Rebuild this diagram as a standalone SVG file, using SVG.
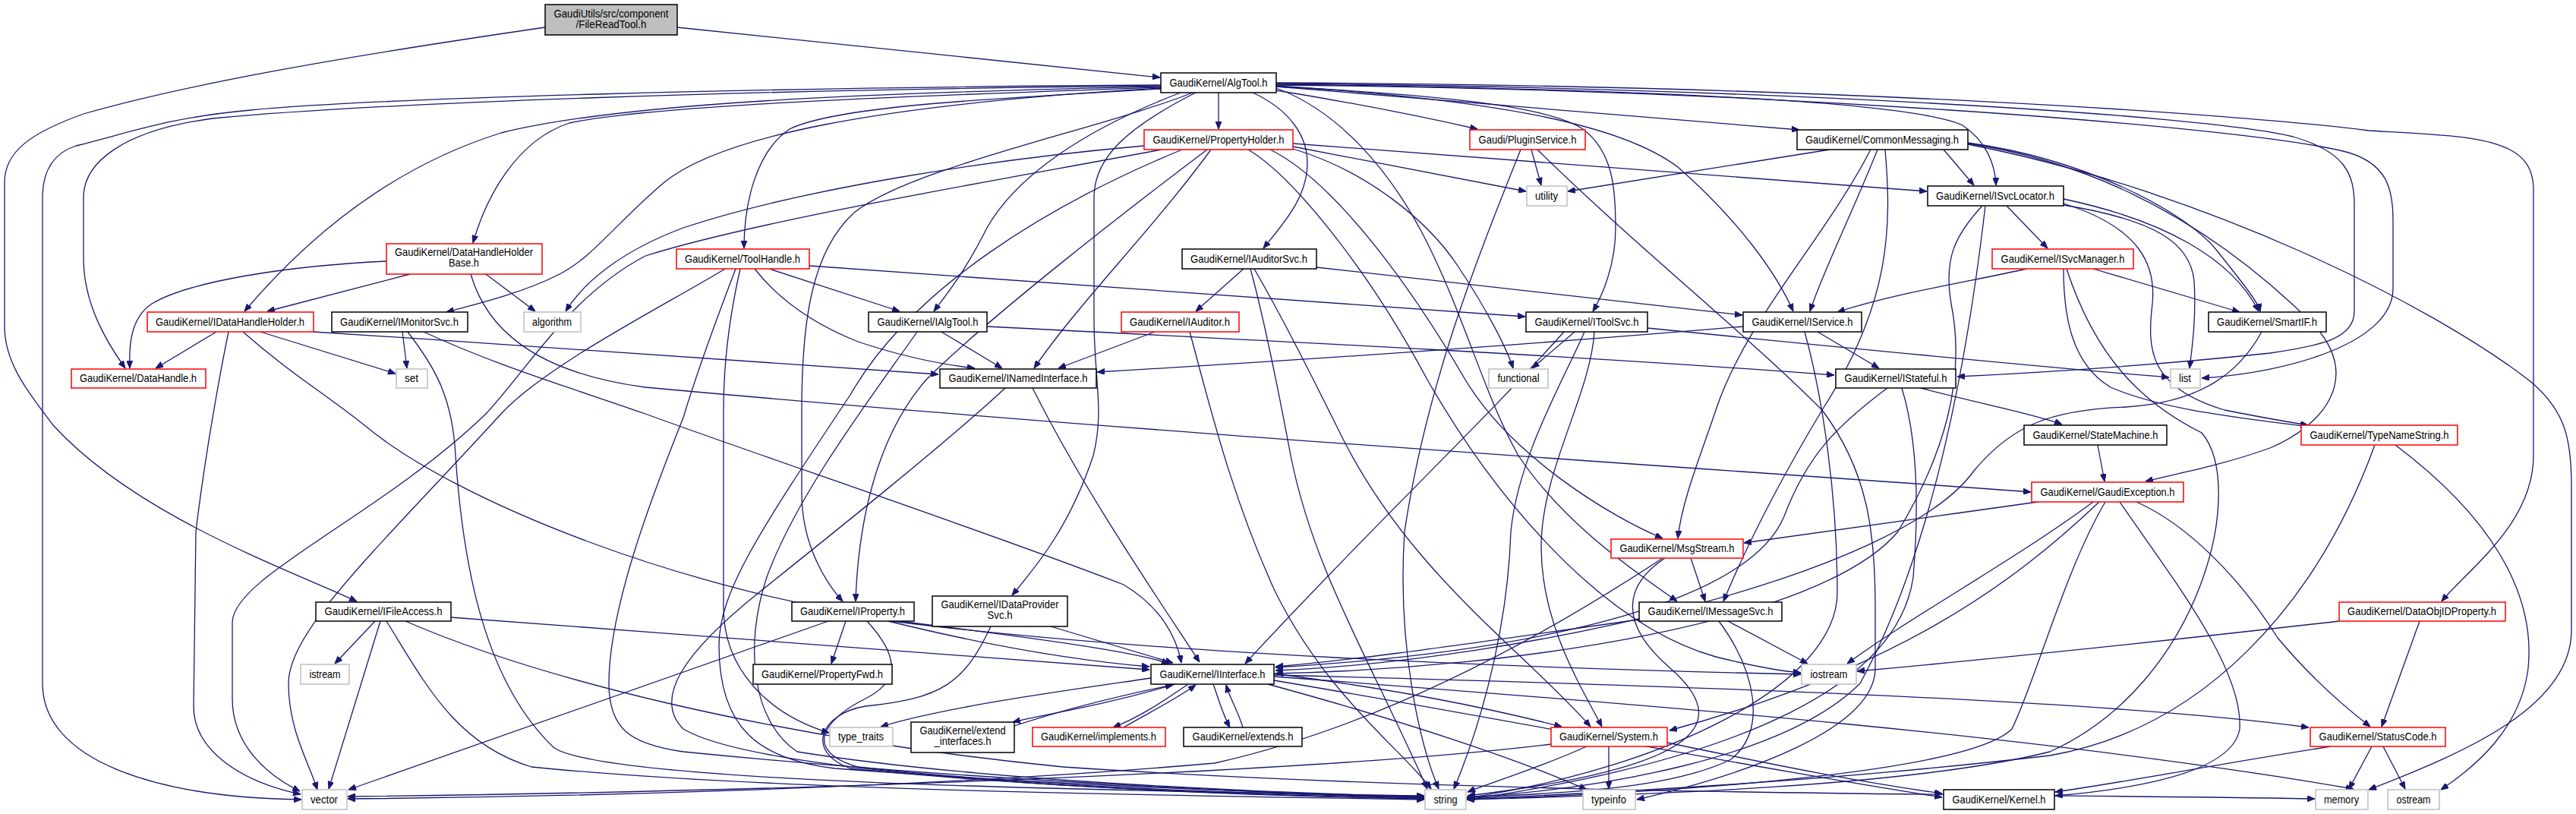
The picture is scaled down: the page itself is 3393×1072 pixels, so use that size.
<svg xmlns="http://www.w3.org/2000/svg" width="3393" height="1072" viewBox="0 0 3393 1072">
<style>
.e{fill:none;stroke:#191970;stroke-width:1.3;marker-end:url(#ah)}
rect{fill:#ffffff;stroke:#000000;stroke-width:1.5}
.r rect{stroke:#ff0000}
.g rect{stroke:#bfbfbf}
.root rect{fill:#bfbfbf}
text{font-family:"Liberation Sans",Arial,Helvetica,sans-serif;font-size:15px;fill:#000000;text-anchor:middle}
</style>
<defs>
<marker id="ah" viewBox="0 0 10 8" refX="10" refY="4" markerWidth="10" markerHeight="8" markerUnits="userSpaceOnUse" orient="auto"><path d="M0,0L10,4L0,8z" fill="#191970" stroke="#191970" stroke-width="1"/></marker>
</defs>
<rect x="0" y="0" width="3393" height="1072" style="fill:#ffffff;stroke:none"/>
<g id="edges">
<path class="e" d="M892,36 L1528,102"/>
<path class="e" d="M718,36 C450,75 250,110 110,150 C40,175 6,200 6,240 L6,430 C6,480 40,520 70,560 C180,680 380,750 470,792"/>
<path class="e" d="M1605,122 L1605,170"/>
<path class="e" d="M1681,119 C1780,135 1880,155 1946,170"/>
<path class="e" d="M1681,114 L2370,171"/>
<path class="e" d="M1681,111 C2200,118 2520,135 2585,165 C2615,185 2628,215 2629,244"/>
<path class="e" d="M1681,113 C1950,130 2130,160 2210,220 C2290,290 2340,360 2362,410"/>
<path class="e" d="M1681,110 C2300,115 2900,150 3020,180 C3090,200 3101,230 3101,270 L3101,410 C3101,445 3060,455 2990,465 C2850,480 2700,490 2578,496"/>
<path class="e" d="M1681,112 C2300,117 2950,165 3090,200 C3145,215 3152,250 3152,290 L3152,380 C3152,450 3020,490 2900,498"/>
<path class="e" d="M1681,109 C2400,112 2950,150 3120,172 C3260,180 3337,180 3337,250 L3337,600 C3337,690 3250,750 3216,792"/>
<path class="e" d="M1555,122 C1430,170 1340,230 1300,300 C1270,360 1245,390 1230,410"/>
<path class="e" d="M1529,117 C1300,130 1100,140 1040,170 C995,200 980,270 980,327"/>
<path class="e" d="M1529,115 C1150,128 850,140 750,162 C680,185 640,260 623,320"/>
<path class="e" d="M1529,114 C1150,122 820,135 660,175 C500,225 390,330 322,410"/>
<path class="e" d="M1529,113 C1000,118 500,135 280,156 C160,172 110,215 110,260 L110,340 C110,400 140,450 165,485"/>
<path class="e" d="M1529,112 C1000,115 480,130 330,145 C220,155 170,175 100,192 C70,202 56,225 56,260 L56,900 C56,1000 200,1050 397,1053"/>
<path class="e" d="M1529,116 C1150,138 950,180 875,240 C810,295 780,340 735,362 C690,385 630,400 588,411"/>
<path class="e" d="M1650,122 C1700,145 1722,180 1722,215 C1722,260 1690,295 1664,327"/>
<path class="e" d="M1681,114 C1900,125 2040,140 2085,170 C2125,200 2128,250 2128,300 C2128,350 2110,390 2098,410"/>
<path class="e" d="M1571,122 C1450,170 1200,220 1125,280 C1070,330 1056,420 1056,540 L1056,650 C1056,720 1090,770 1110,792"/>
<path class="e" d="M1575,122 C1480,170 1441,210 1441,260 L1441,420 C1441,500 1455,540 1440,600 C1410,690 1370,740 1333,784"/>
<path class="e" d="M1681,116 C1760,145 1830,220 1880,320 C1930,420 1955,520 2000,600 C2060,690 2150,750 2209,792"/>
<path class="e" d="M1507,192 C1300,210 1050,250 900,300 C820,330 770,370 745,410"/>
<path class="e" d="M1530,197 C1300,240 1000,290 850,337 C750,390 700,480 640,545 C500,680 306,760 306,820 L306,920 C306,980 350,1020 395,1042"/>
<path class="e" d="M1557,197 C1380,270 1200,380 1120,520 C1000,700 947,780 947,850 C947,960 1000,1000 1100,1012 C1400,1035 1700,1045 1876,1050"/>
<path class="e" d="M1590,197 C1480,280 1300,420 1220,500 C1150,580 1130,700 1127,792"/>
<path class="e" d="M1595,197 C1520,300 1420,400 1362,485"/>
<path class="e" d="M1644,197 C1700,230 1800,350 1880,500 C1960,640 2100,820 2260,865 C2320,880 2350,884 2372,886"/>
<path class="e" d="M1673,197 C1760,240 1860,380 1930,500 C1990,600 2120,680 2190,709"/>
<path class="e" d="M1703,193 L2010,252"/>
<path class="e" d="M1703,189 L2538,252"/>
<path class="e" d="M1703,196 C1800,225 1880,290 1920,350 C1960,410 1985,460 1993,485"/>
<path class="e" d="M2017,197 L2030,244"/>
<path class="e" d="M2003,197 C1950,330 1880,500 1850,700 C1840,850 1870,980 1895,1039"/>
<path class="e" d="M2025,197 C2150,320 2300,440 2400,540 C2460,620 2470,700 2470,800 L2470,880 C2470,960 2300,1020 2156,1053"/>
<path class="e" d="M2410,197 L2065,252"/>
<path class="e" d="M2560,197 L2600,244"/>
<path class="e" d="M2473,197 C2440,280 2400,360 2384,410"/>
<path class="e" d="M2464,197 C2400,320 2300,420 2260,540 C2240,600 2215,660 2210,709"/>
<path class="e" d="M2483,197 C2492,300 2490,400 2400,540 C2340,640 2300,720 2270,792"/>
<path class="e" d="M2592,188 C2750,210 2880,280 2920,330 C2960,380 2975,400 2977,410"/>
<path class="e" d="M2592,189 C2800,220 2950,330 3050,430 C3110,500 3060,560 2990,590 C2920,615 2860,625 2826,634"/>
<path class="e" d="M2592,190 C2900,250 3200,400 3330,500 C3380,540 3387,580 3387,640 L3387,830 C3387,930 3250,990 3120,1040"/>
<path class="e" d="M2643,271 L2697,327"/>
<path class="e" d="M2718,262 C2850,290 2940,340 2975,410"/>
<path class="e" d="M2718,270 C2840,290 2885,320 2890,370 C2893,420 2887,460 2884,485"/>
<path class="e" d="M2718,268 C2820,300 2840,350 2835,400 C2828,460 2830,510 2930,540 C2980,550 3010,555 3040,560"/>
<path class="e" d="M2615,271 C2600,400 2560,700 2450,900 C2350,1000 2100,1040 1932,1050"/>
<path class="e" d="M2611,271 C2575,310 2560,340 2570,400 C2590,500 2560,600 2500,700 C2400,820 2000,880 1680,887"/>
<path class="e" d="M509,344 C380,350 250,370 200,400 C170,420 170,460 171,485"/>
<path class="e" d="M540,361 L352,410"/>
<path class="e" d="M640,361 L705,410"/>
<path class="e" d="M620,361 C640,430 700,490 850,510 C1500,570 2300,620 2675,648"/>
<path class="e" d="M1066,350 L2009,417"/>
<path class="e" d="M1013,354 L1185,410"/>
<path class="e" d="M994,354 C1030,400 1080,430 1130,450 C1190,470 1240,480 1284,485"/>
<path class="e" d="M975,354 C960,420 953,480 953,540 L953,800 C953,880 1010,940 1092,965"/>
<path class="e" d="M969,354 C940,430 915,500 900,550 C860,650 802,800 802,900 C802,960 830,980 900,990 C1300,1030 1700,1045 1876,1051"/>
<path class="e" d="M955,354 C880,400 720,480 660,545 C500,720 380,830 380,900 C380,960 405,1000 418,1040"/>
<path class="e" d="M1638,354 L1575,410"/>
<path class="e" d="M1647,354 C1665,420 1685,520 1700,600 C1730,750 1800,860 1880,1039"/>
<path class="e" d="M1652,354 C1690,420 1720,480 1760,560 C1850,750 2000,850 2095,957"/>
<path class="e" d="M1734,352 L2295,415"/>
<path class="e" d="M2669,354 C2600,370 2500,385 2420,411"/>
<path class="e" d="M2757,354 L2950,411"/>
<path class="e" d="M2718,354 C2718,420 2730,480 2780,510 C2850,540 2950,550 3040,562"/>
<path class="e" d="M2722,354 C2760,470 2820,530 2900,570 C2960,640 2900,900 2700,990 C2500,1040 2100,1048 1932,1053"/>
<path class="e" d="M285,437 L205,485"/>
<path class="e" d="M343,437 L521,492"/>
<path class="e" d="M301,437 C290,490 270,600 258,700 L255,930 C255,990 320,1030 396,1046"/>
<path class="e" d="M320,437 C380,490 430,520 480,560 C600,660 900,780 1200,820 C1400,845 1500,860 1540,874"/>
<path class="e" d="M413,437 C700,455 1000,478 1236,493"/>
<path class="e" d="M530,437 L536,485"/>
<path class="e" d="M537,437 C570,480 596,520 600,600 C610,750 640,900 730,985 C800,1030 1400,1040 1876,1048"/>
<path class="e" d="M558,437 C650,480 750,510 850,545 C1000,600 1300,700 1480,770 C1530,800 1550,840 1556,873"/>
<path class="e" d="M1240,437 L1320,485"/>
<path class="e" d="M1208,437 C1150,520 1050,650 1010,760 C980,850 990,950 1050,990 C1300,1030 1700,1045 1876,1049"/>
<path class="e" d="M1300,430 C1700,450 2100,470 2416,494"/>
<path class="e" d="M1521,437 L1394,485"/>
<path class="e" d="M1567,437 C1590,520 1620,650 1680,780 C1750,920 1850,990 1885,1039"/>
<path class="e" d="M2074,437 L2018,485"/>
<path class="e" d="M2170,432 C2400,455 2650,480 2857,497"/>
<path class="e" d="M2087,437 C2060,500 2000,600 1990,700 C1985,850 1940,980 1915,1039"/>
<path class="e" d="M2100,437 C2095,520 2030,620 2030,720 C2030,820 2080,900 2110,957"/>
<path class="e" d="M2060,437 C1950,560 1800,700 1640,874"/>
<path class="e" d="M2394,437 L2475,485"/>
<path class="e" d="M2296,430 C2000,455 1700,475 1445,490"/>
<path class="e" d="M2377,437 C2400,520 2420,650 2420,780 C2420,900 2200,1010 1932,1051"/>
<path class="e" d="M2979,437 C2950,490 2900,530 2800,536 C2700,540 2650,560 2600,620 C2500,760 2000,870 1680,883"/>
<path class="e" d="M2530,511 C2600,530 2680,545 2716,559"/>
<path class="e" d="M2486,511 C2420,560 2380,600 2350,680 C2300,800 2000,860 1680,879"/>
<path class="e" d="M2505,511 C2520,560 2530,640 2520,760 C2500,900 2300,1000 1932,1053"/>
<path class="e" d="M2763,586 L2772,634"/>
<path class="e" d="M3128,586 C3050,800 2900,960 2700,995 C2400,1030 2100,1045 1932,1052"/>
<path class="e" d="M3155,586 C3280,680 3340,780 3330,880 C3320,960 3260,1010 3215,1040"/>
<path class="e" d="M2684,661 C2550,680 2400,700 2297,715"/>
<path class="e" d="M2757,661 C2650,740 2520,810 2433,874"/>
<path class="e" d="M2765,661 C2650,770 2500,880 2199,962"/>
<path class="e" d="M2773,661 C2720,750 2680,900 2650,960 C2600,1010 2300,1040 1932,1053"/>
<path class="e" d="M2792,661 C2860,760 2955,880 2950,960 C2940,1020 2800,1040 2707,1048"/>
<path class="e" d="M2814,661 C2880,690 2950,760 3000,840 C3050,900 3100,940 3122,957"/>
<path class="e" d="M2227,735 L2246,792"/>
<path class="e" d="M2190,735 C2000,860 1800,960 1600,1005 C1200,1040 700,1050 458,1052"/>
<path class="e" d="M2193,735 C2140,770 2130,820 2200,880 C2280,950 2250,1010 1933,1048"/>
<path class="e" d="M494,818 L441,874"/>
<path class="e" d="M501,818 L433,1039"/>
<path class="e" d="M594,813 C900,835 1200,860 1514,882"/>
<path class="e" d="M509,818 C560,900 600,980 700,1010 C1000,1040 1500,1047 1876,1053"/>
<path class="e" d="M534,818 C700,890 1000,970 1400,1010 C2000,1050 2700,1045 3049,1052"/>
<path class="e" d="M1114,818 L1095,874"/>
<path class="e" d="M1091,818 L459,1040"/>
<path class="e" d="M1170,818 C1300,850 1420,870 1514,878"/>
<path class="e" d="M1175,818 C1500,860 2000,880 2372,888"/>
<path class="e" d="M1142,818 C1190,870 1180,900 1140,920 C1080,950 1060,990 1130,1010 C1400,1040 1700,1046 1876,1051"/>
<path class="e" d="M1384,825 L1545,873"/>
<path class="e" d="M1305,825 C1270,900 1240,920 1140,930 C1080,940 1060,990 1120,1012 C1400,1040 1700,1048 1876,1052"/>
<path class="e" d="M2159,816 C1950,845 1800,868 1680,878"/>
<path class="e" d="M2276,818 L2381,874"/>
<path class="e" d="M2264,818 C2310,880 2330,960 2280,1000 C2200,1040 2050,1045 1933,1050"/>
<path class="e" d="M3187,818 L3137,957"/>
<path class="e" d="M3081,818 C2800,850 2600,870 2446,884"/>
<path class="e" d="M1360,511 C1430,650 1520,780 1580,872"/>
<path class="e" d="M1324,511 C1250,580 1100,700 1000,780 C900,860 860,920 900,960 C1000,1020 1500,1045 1876,1052"/>
<path class="e" d="M1516,893 C1400,910 1250,930 1160,957"/>
<path class="e" d="M1548,901 C1450,930 1380,940 1334,951"/>
<path class="e" d="M1336,956 C1400,935 1480,915 1545,902"/>
<path class="e" d="M1565,901 C1530,925 1500,945 1466,958"/>
<path class="e" d="M1480,958 C1520,935 1550,920 1575,902"/>
<path class="e" d="M1598,901 C1605,920 1610,940 1620,958"/>
<path class="e" d="M1637,958 C1630,935 1620,920 1615,902"/>
<path class="e" d="M1678,887 C1850,910 1950,930 2057,957"/>
<path class="e" d="M1678,889 C2300,905 2800,925 3041,958"/>
<path class="e" d="M1678,896 C2000,950 2300,1010 2558,1050"/>
<path class="e" d="M1670,901 C1850,950 2000,1000 2090,1040"/>
<path class="e" d="M1678,891 C2200,930 2700,970 3100,1039"/>
<path class="e" d="M2196,978 C2350,1010 2450,1030 2558,1045"/>
<path class="e" d="M2119,983 L2119,1039"/>
<path class="e" d="M2090,983 C2030,1010 1980,1025 1933,1043"/>
<path class="e" d="M2043,980 C1800,1010 1200,1040 458,1049"/>
<path class="e" d="M3070,983 C2900,1010 2800,1030 2707,1043"/>
<path class="e" d="M3124,983 L3094,1039"/>
<path class="e" d="M3139,983 L3168,1039"/>
</g>
<g id="FileReadTool" class="root"><rect x="718" y="6" width="174" height="40"/><text x="805" y="23" textLength="151" lengthAdjust="spacingAndGlyphs">GaudiUtils/src/component</text><text x="805" y="37" textLength="93" lengthAdjust="spacingAndGlyphs">/FileReadTool.h</text></g>
<g id="AlgTool"><rect x="1529" y="96" width="152" height="26"/><text x="1605" y="114" textLength="129" lengthAdjust="spacingAndGlyphs">GaudiKernel/AlgTool.h</text></g>
<g id="PropertyHolder" class="r"><rect x="1507" y="171" width="196" height="26"/><text x="1605" y="189" textLength="173" lengthAdjust="spacingAndGlyphs">GaudiKernel/PropertyHolder.h</text></g>
<g id="PluginService" class="r"><rect x="1936" y="171" width="152" height="26"/><text x="2012" y="189" textLength="129" lengthAdjust="spacingAndGlyphs">Gaudi/PluginService.h</text></g>
<g id="CommonMessaging"><rect x="2367" y="171" width="225" height="26"/><text x="2479" y="189" textLength="202" lengthAdjust="spacingAndGlyphs">GaudiKernel/CommonMessaging.h</text></g>
<g id="utility" class="g"><rect x="2011" y="245" width="53" height="26"/><text x="2037" y="263" textLength="30" lengthAdjust="spacingAndGlyphs">utility</text></g>
<g id="ISvcLocator"><rect x="2539" y="245" width="179" height="26"/><text x="2628" y="263" textLength="156" lengthAdjust="spacingAndGlyphs">GaudiKernel/ISvcLocator.h</text></g>
<g id="DataHandleHolderBase" class="r"><rect x="509" y="321" width="205" height="40"/><text x="611" y="337" textLength="182" lengthAdjust="spacingAndGlyphs">GaudiKernel/DataHandleHolder</text><text x="611" y="351" textLength="40" lengthAdjust="spacingAndGlyphs">Base.h</text></g>
<g id="ToolHandle" class="r"><rect x="891" y="328" width="175" height="26"/><text x="978" y="346" textLength="152" lengthAdjust="spacingAndGlyphs">GaudiKernel/ToolHandle.h</text></g>
<g id="IAuditorSvc"><rect x="1557" y="328" width="177" height="26"/><text x="1645" y="346" textLength="154" lengthAdjust="spacingAndGlyphs">GaudiKernel/IAuditorSvc.h</text></g>
<g id="ISvcManager" class="r"><rect x="2624" y="328" width="186" height="26"/><text x="2717" y="346" textLength="163" lengthAdjust="spacingAndGlyphs">GaudiKernel/ISvcManager.h</text></g>
<g id="IDataHandleHolder" class="r"><rect x="194" y="411" width="219" height="26"/><text x="303" y="429" textLength="196" lengthAdjust="spacingAndGlyphs">GaudiKernel/IDataHandleHolder.h</text></g>
<g id="IMonitorSvc"><rect x="437" y="411" width="179" height="26"/><text x="526" y="429" textLength="156" lengthAdjust="spacingAndGlyphs">GaudiKernel/IMonitorSvc.h</text></g>
<g id="algorithm" class="g"><rect x="690" y="411" width="75" height="26"/><text x="727" y="429" textLength="52" lengthAdjust="spacingAndGlyphs">algorithm</text></g>
<g id="IAlgTool"><rect x="1144" y="411" width="156" height="26"/><text x="1222" y="429" textLength="133" lengthAdjust="spacingAndGlyphs">GaudiKernel/IAlgTool.h</text></g>
<g id="IAuditor" class="r"><rect x="1477" y="411" width="155" height="26"/><text x="1554" y="429" textLength="132" lengthAdjust="spacingAndGlyphs">GaudiKernel/IAuditor.h</text></g>
<g id="IToolSvc"><rect x="2010" y="411" width="160" height="26"/><text x="2090" y="429" textLength="137" lengthAdjust="spacingAndGlyphs">GaudiKernel/IToolSvc.h</text></g>
<g id="IService"><rect x="2296" y="411" width="156" height="26"/><text x="2374" y="429" textLength="133" lengthAdjust="spacingAndGlyphs">GaudiKernel/IService.h</text></g>
<g id="SmartIF"><rect x="2909" y="411" width="155" height="26"/><text x="2986" y="429" textLength="132" lengthAdjust="spacingAndGlyphs">GaudiKernel/SmartIF.h</text></g>
<g id="DataHandle" class="r"><rect x="94" y="486" width="177" height="25"/><text x="182" y="503" textLength="154" lengthAdjust="spacingAndGlyphs">GaudiKernel/DataHandle.h</text></g>
<g id="set" class="g"><rect x="522" y="486" width="41" height="25"/><text x="542" y="503" textLength="18" lengthAdjust="spacingAndGlyphs">set</text></g>
<g id="INamedInterface"><rect x="1238" y="486" width="206" height="25"/><text x="1341" y="503" textLength="183" lengthAdjust="spacingAndGlyphs">GaudiKernel/INamedInterface.h</text></g>
<g id="functional" class="g"><rect x="1961" y="486" width="78" height="25"/><text x="2000" y="503" textLength="55" lengthAdjust="spacingAndGlyphs">functional</text></g>
<g id="IStateful"><rect x="2418" y="486" width="158" height="25"/><text x="2497" y="503" textLength="135" lengthAdjust="spacingAndGlyphs">GaudiKernel/IStateful.h</text></g>
<g id="list" class="g"><rect x="2859" y="486" width="39" height="25"/><text x="2878" y="503" textLength="16" lengthAdjust="spacingAndGlyphs">list</text></g>
<g id="StateMachine"><rect x="2666" y="560" width="188" height="26"/><text x="2760" y="578" textLength="165" lengthAdjust="spacingAndGlyphs">GaudiKernel/StateMachine.h</text></g>
<g id="TypeNameString" class="r"><rect x="3031" y="560" width="206" height="26"/><text x="3134" y="578" textLength="183" lengthAdjust="spacingAndGlyphs">GaudiKernel/TypeNameString.h</text></g>
<g id="GaudiException" class="r"><rect x="2676" y="635" width="200" height="26"/><text x="2776" y="653" textLength="177" lengthAdjust="spacingAndGlyphs">GaudiKernel/GaudiException.h</text></g>
<g id="MsgStream" class="r"><rect x="2122" y="710" width="174" height="25"/><text x="2209" y="727" textLength="151" lengthAdjust="spacingAndGlyphs">GaudiKernel/MsgStream.h</text></g>
<g id="IFileAccess"><rect x="416" y="793" width="178" height="25"/><text x="505" y="810" textLength="155" lengthAdjust="spacingAndGlyphs">GaudiKernel/IFileAccess.h</text></g>
<g id="IProperty"><rect x="1043" y="793" width="161" height="25"/><text x="1123" y="810" textLength="138" lengthAdjust="spacingAndGlyphs">GaudiKernel/IProperty.h</text></g>
<g id="IDataProviderSvc"><rect x="1228" y="785" width="178" height="40"/><text x="1317" y="801" textLength="155" lengthAdjust="spacingAndGlyphs">GaudiKernel/IDataProvider</text><text x="1317" y="815" textLength="33" lengthAdjust="spacingAndGlyphs">Svc.h</text></g>
<g id="IMessageSvc"><rect x="2159" y="793" width="188" height="25"/><text x="2253" y="810" textLength="165" lengthAdjust="spacingAndGlyphs">GaudiKernel/IMessageSvc.h</text></g>
<g id="DataObjIDProperty" class="r"><rect x="3081" y="793" width="219" height="25"/><text x="3190" y="810" textLength="196" lengthAdjust="spacingAndGlyphs">GaudiKernel/DataObjIDProperty.h</text></g>
<g id="istream" class="g"><rect x="396" y="875" width="64" height="26"/><text x="428" y="893" textLength="41" lengthAdjust="spacingAndGlyphs">istream</text></g>
<g id="PropertyFwd"><rect x="992" y="875" width="183" height="26"/><text x="1083" y="893" textLength="160" lengthAdjust="spacingAndGlyphs">GaudiKernel/PropertyFwd.h</text></g>
<g id="IInterface"><rect x="1516" y="875" width="162" height="26"/><text x="1597" y="893" textLength="139" lengthAdjust="spacingAndGlyphs">GaudiKernel/IInterface.h</text></g>
<g id="iostream" class="g"><rect x="2373" y="875" width="72" height="26"/><text x="2409" y="893" textLength="49" lengthAdjust="spacingAndGlyphs">iostream</text></g>
<g id="type_traits" class="g"><rect x="1093" y="958" width="83" height="25"/><text x="1134" y="975" textLength="60" lengthAdjust="spacingAndGlyphs">type_traits</text></g>
<g id="extend_interfaces"><rect x="1200" y="951" width="136" height="40"/><text x="1268" y="967" textLength="113" lengthAdjust="spacingAndGlyphs">GaudiKernel/extend</text><text x="1268" y="981" textLength="75" lengthAdjust="spacingAndGlyphs">_interfaces.h</text></g>
<g id="implements" class="r"><rect x="1360" y="958" width="175" height="25"/><text x="1447" y="975" textLength="152" lengthAdjust="spacingAndGlyphs">GaudiKernel/implements.h</text></g>
<g id="extends"><rect x="1559" y="958" width="156" height="25"/><text x="1637" y="975" textLength="133" lengthAdjust="spacingAndGlyphs">GaudiKernel/extends.h</text></g>
<g id="System" class="r"><rect x="2043" y="958" width="153" height="25"/><text x="2119" y="975" textLength="130" lengthAdjust="spacingAndGlyphs">GaudiKernel/System.h</text></g>
<g id="StatusCode" class="r"><rect x="3043" y="958" width="178" height="25"/><text x="3132" y="975" textLength="155" lengthAdjust="spacingAndGlyphs">GaudiKernel/StatusCode.h</text></g>
<g id="vector" class="g"><rect x="398" y="1040" width="59" height="26"/><text x="427" y="1058" textLength="36" lengthAdjust="spacingAndGlyphs">vector</text></g>
<g id="string" class="g"><rect x="1877" y="1040" width="54" height="26"/><text x="1904" y="1058" textLength="31" lengthAdjust="spacingAndGlyphs">string</text></g>
<g id="typeinfo" class="g"><rect x="2085" y="1040" width="69" height="26"/><text x="2119" y="1058" textLength="46" lengthAdjust="spacingAndGlyphs">typeinfo</text></g>
<g id="Kernel"><rect x="2560" y="1040" width="146" height="26"/><text x="2633" y="1058" textLength="123" lengthAdjust="spacingAndGlyphs">GaudiKernel/Kernel.h</text></g>
<g id="memory" class="g"><rect x="3050" y="1040" width="69" height="26"/><text x="3084" y="1058" textLength="46" lengthAdjust="spacingAndGlyphs">memory</text></g>
<g id="ostream" class="g"><rect x="3145" y="1040" width="68" height="26"/><text x="3179" y="1058" textLength="45" lengthAdjust="spacingAndGlyphs">ostream</text></g>
</svg>
